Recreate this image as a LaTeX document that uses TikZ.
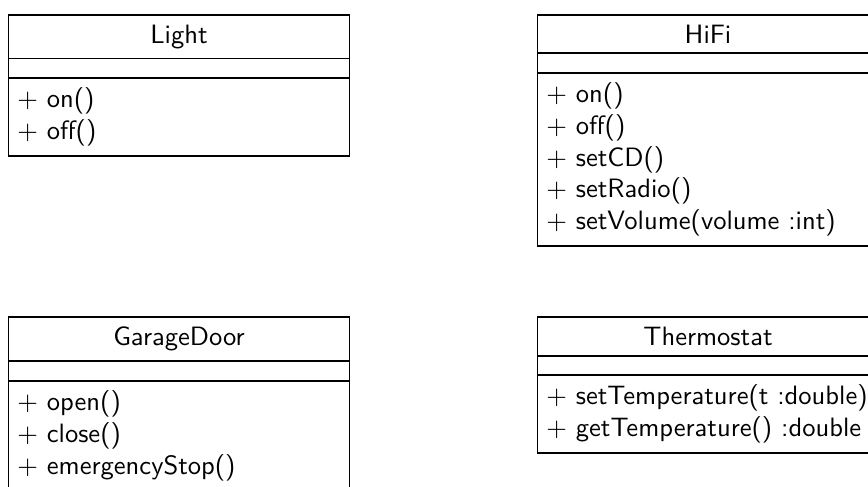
\documentclass[tikz,border=0pt]{standalone}
\usepackage{tikz}
\usetikzlibrary{shapes}
\tikzstyle{umlclass}=[rectangle split, rectangle split parts=3, draw, line width=0.7pt,
    anchor=north, text width=121.7pt, font=\sffamily]

\begin{document}
\begin{tikzpicture}
    % picture frame, the right and bottom boxes run past it
    \clip (-67.4pt,5.3pt) rectangle (259.4pt,-177.7pt);
    % First row of classes
    \node[umlclass] (light) at (0,0)
        {\centering Light\par\nodepart{second}\nodepart{third}$+$ on()\\$+$ off()};
    \node[umlclass] (hifi) at (7,0)
        {\centering HiFi\par\nodepart{second}\nodepart{third}$+$ on()\\$+$ off()\\$+$ setCD()\\$+$ setRadio()\\$+$ setVolume(volume :int)};
    % Second row of classes
    \node[umlclass] (garagedoor) at (0,-4)
        {\centering GarageDoor\par\nodepart{second}\nodepart{third}$+$ open()\\$+$ close()\\$+$ emergencyStop()};
    \node[umlclass] (thermostat) at (7,-4)
        {\centering Thermostat\par\nodepart{second}\nodepart{third}$+$ setTemperature(t :double)\\$+$ getTemperature() :double};
\end{tikzpicture}
\end{document}
